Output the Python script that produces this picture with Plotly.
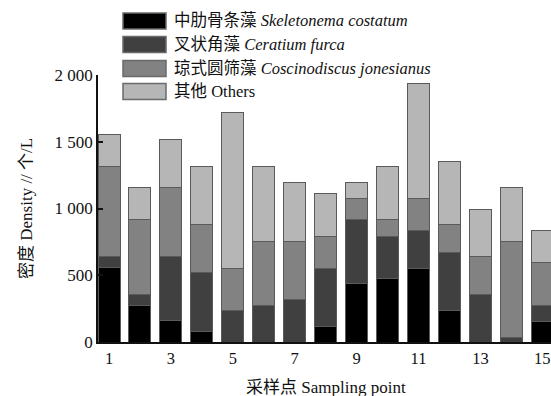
import plotly.graph_objects as go

points = list(range(1, 16))
skeletonema = [556, 276, 158, 80, 0, 0, 0, 118, 439, 476, 554, 238, 0, 0, 155]
ceratium = [83, 82, 481, 439, 238, 276, 318, 436, 481, 318, 280, 436, 358, 35, 118]
coscinodiscus = [677, 562, 519, 358, 316, 478, 436, 240, 155, 126, 241, 203, 279, 717, 323]
others = [238, 238, 358, 439, 1163, 562, 441, 321, 120, 396, 862, 476, 358, 406, 236]

series_names = ["中肋骨条藻 <i>Skeletonema costatum</i>",
                "叉状角藻 <i>Ceratium furca</i>",
                "琼式圆筛藻 <i>Coscinodiscus jonesianus</i>",
                "其他 Others"]
series_values = [skeletonema, ceratium, coscinodiscus, others]
colors = ["#000000", "#404040", "#828282", "#b6b6b6"]

ytick_vals = [0, 500, 1000, 1500, 2000]
ytick_text = ["0", "500", "1 000", "1 500", "2 000"]
xtick_vals = [1, 3, 5, 7, 9, 11, 13, 15]
x_title = "采样点 Sampling point"
y_title = "密度 Density // 个/L"

FONT = "Liberation Serif, Noto Sans CJK SC, serif"

W, H = 551, 396
L, R, T, B = 98, 0, 75, 54
PW, PH = W - L - R, H - T - B

def px(x):
    return (x - L) / PW

def py(y):
    return (H - B - y) / PH

fig = go.Figure()
for name, vals, c in zip(series_names, series_values, colors):
    fig.add_trace(go.Bar(x=points, y=vals, name=name, marker_color=c,
                         marker_line_color="#5a5a5a", marker_line_width=1,
                         showlegend=False, hoverinfo="skip"))

# manual legend (wide swatches as in the reference)
row_y = [21, 44.5, 68.5, 91.5]
for name, c, yc in zip(series_names, colors, row_y):
    fig.add_shape(type="rect", xref="paper", yref="paper",
                  x0=px(123), x1=px(166), y0=py(yc - 8), y1=py(yc + 8),
                  fillcolor=c, line=dict(color="#6a6a6a", width=1.5))
    fig.add_annotation(xref="paper", yref="paper", x=px(172), y=py(yc),
                       xanchor="left", yanchor="middle", showarrow=False,
                       text=name, font=dict(family=FONT, size=16.5, color="#111"))

# axis titles
fig.add_annotation(xref="paper", yref="paper", x=px(326), y=py(387),
                   xanchor="center", yanchor="middle", showarrow=False,
                   text=x_title, font=dict(family=FONT, size=17, color="#111"))
fig.add_annotation(xref="paper", yref="paper", x=px(26), y=py(209),
                   xanchor="center", yanchor="middle", showarrow=False,
                   textangle=-90,
                   text=y_title, font=dict(family=FONT, size=17, color="#111"))

fig.update_layout(
    width=W, height=H,
    margin=dict(l=L, r=R, t=T, b=B, pad=0),
    barmode="stack", bargap=0.289,
    plot_bgcolor="white", paper_bgcolor="white",
    font=dict(family=FONT, size=17, color="#111"),
    xaxis=dict(range=[0.6446, 15.281], tickvals=xtick_vals, ticks="",
               showline=True, linecolor="#111", linewidth=1.5, showgrid=False,
               zeroline=False, tickfont=dict(size=16.5), automargin=False,
               ticklabeloverflow="allow"),
    yaxis=dict(range=[0, 2000], tickvals=ytick_vals, ticktext=ytick_text,
               ticks="inside", ticklen=5, tickcolor="#111", tickwidth=1.5,
               showline=True, linecolor="#111", linewidth=1.5, showgrid=False,
               zeroline=False, tickfont=dict(size=17), automargin=False),
)

fig.write_html("out.html", config={"displayModeBar": False},
               post_script="document.body.style.margin='0';document.body.style.overflow='hidden';")
